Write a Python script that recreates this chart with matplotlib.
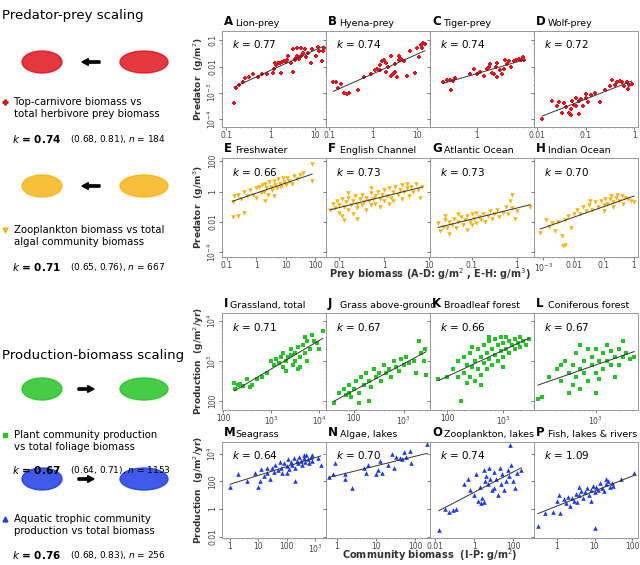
import numpy as np
import matplotlib
matplotlib.use("Agg")
import matplotlib.pyplot as plt
from matplotlib.ticker import FixedLocator, FuncFormatter, LogLocator

# all point coordinates are log10 values
A_pts = [(-0.83,-3.4),(-0.79,-2.8),(-0.72,-2.7),(-0.62,-2.6),(-0.58,-2.45),(-0.5,-2.4),(-0.41,-2.3),(-0.29,-2.4),(-0.2,-2.3),(-0.08,-2.3),(0.05,-2.25),(0.07,-2.1),(0.09,-1.85),(0.12,-1.93),(0.17,-1.88),(0.2,-1.85),(0.25,-1.82),(0.23,-2.25),(0.3,-1.8),(0.34,-1.82),(0.38,-1.75),(0.47,-1.85),(0.5,-2.2),(0.56,-1.7),(0.6,-1.6),(0.64,-1.7),(0.68,-1.6),(0.73,-1.5),(0.77,-1.35),(0.8,-1.65),(0.85,-1.5),(0.9,-1.85),(0.94,-1.35),(1.02,-1.6),(1.06,-1.25),(1.1,-1.4),(1.15,-1.8),(1.18,-1.4),(1.2,-1.3),(0.4,-1.6),(0.5,-1.35),(0.6,-1.3),(0.68,-1.28),(0.55,-1.75)]
B_pts = [(-0.9,-2.6),(-0.85,-2.6),(-0.8,-2.8),(-0.72,-2.65),(-0.65,-3.0),(-0.6,-3.05),(-0.55,-3.0),(-0.35,-2.9),(-0.2,-2.4),(-0.05,-2.3),(0.05,-2.15),(0.1,-2.1),(0.15,-2.15),(0.2,-1.8),(0.25,-1.75),(0.3,-2.2),(0.35,-2.0),(0.4,-2.35),(0.45,-2.3),(0.5,-2.2),(0.55,-2.4),(0.6,-1.75),(0.65,-1.7),(0.7,-1.8),(0.78,-2.35),(0.85,-1.4),(0.95,-2.25),(1.0,-1.3),(1.05,-1.65),(1.1,-1.2),(1.12,-1.3),(1.15,-1.1),(1.18,-1.15),(0.3,-1.85),(0.4,-1.6),(0.15,-1.95),(0.6,-1.6),(0.5,-1.9)]
C_pts = [(-0.5,-2.6),(-0.45,-2.5),(-0.4,-2.5),(-0.38,-2.9),(-0.35,-2.55),(-0.32,-2.45),(-0.1,-2.3),(-0.05,-2.1),(0.0,-2.3),(0.05,-2.2),(0.1,-2.35),(0.15,-2.1),(0.18,-2.0),(0.2,-1.9),(0.22,-2.25),(0.25,-2.3),(0.28,-2.0),(0.3,-1.85),(0.35,-2.15),(0.38,-2.3),(0.4,-2.1),(0.45,-1.9),(0.48,-1.8),(0.5,-2.0),(0.55,-1.8),(0.58,-1.75),(0.62,-1.7),(0.65,-1.75),(0.68,-1.65),(0.7,-1.75),(0.42,-1.75),(0.3,-2.4)]
D_pts = [(-1.9,-4.0),(-1.7,-3.3),(-1.6,-3.5),(-1.55,-3.35),(-1.5,-3.75),(-1.45,-3.4),(-1.4,-3.55),(-1.35,-3.75),(-1.3,-3.6),(-1.28,-3.3),(-1.25,-3.45),(-1.2,-3.5),(-1.15,-3.3),(-1.1,-3.25),(-1.05,-3.5),(-1.0,-3.2),(-0.95,-3.35),(-0.9,-3.1),(-0.8,-3.0),(-0.7,-3.35),(-0.6,-2.9),(-0.5,-2.75),(-0.45,-2.5),(-0.4,-2.7),(-0.35,-2.6),(-0.3,-2.55),(-0.25,-2.6),(-0.2,-2.75),(-0.15,-2.6),(-0.1,-2.7),(-0.05,-2.65),(-1.15,-3.8),(-1.3,-3.85),(-1.2,-3.2),(-0.12,-2.85),(-1.0,-3.05)]
E_pts = [(-0.75,-0.3),(-0.6,-0.2),(-0.5,-0.5),(-0.4,0.0),(-0.3,-0.3),(-0.2,0.1),(-0.1,-0.2),(0.0,0.2),(0.0,-0.4),(0.1,0.3),(0.15,-0.1),(0.2,0.4),(0.25,0.0),(0.3,0.5),(0.35,0.2),(0.4,-0.2),(0.45,0.6),(0.5,0.3),(0.55,0.1),(0.6,0.7),(0.65,0.4),(0.7,0.2),(0.75,0.8),(0.8,0.5),(0.85,0.3),(0.9,0.9),(0.95,0.6),(1.0,0.4),(1.05,0.9),(1.1,0.7),(1.2,0.5),(1.3,1.0),(1.4,0.8),(1.5,1.1),(1.6,1.2),(1.9,1.8),(1.9,0.7),(-0.8,-0.7),(-0.8,-1.7),(-0.6,-1.6),(-0.4,-1.4),(0.3,-0.6),(0.6,-0.3)]
F_pts = [(-1.2,-1.2),(-1.15,-0.8),(-1.1,-1.1),(-1.05,-0.6),(-1.0,-1.4),(-1.0,-0.9),(-0.95,-0.5),(-0.9,-1.0),(-0.9,-1.9),(-0.85,-0.7),(-0.8,-1.2),(-0.8,-0.4),(-0.75,-0.9),(-0.7,-0.6),(-0.7,-1.5),(-0.65,-0.3),(-0.6,-0.8),(-0.6,-1.1),(-0.55,-0.5),(-0.5,-0.9),(-0.5,-0.2),(-0.45,-0.7),(-0.4,-1.2),(-0.4,-0.4),(-0.35,-0.6),(-0.3,-0.1),(-0.3,-0.9),(-0.25,-0.5),(-0.2,-0.3),(-0.2,-0.8),(-0.15,0.0),(-0.1,-0.5),(-0.1,-1.0),(-0.05,-0.2),(0.0,-0.6),(0.0,0.1),(0.05,-0.3),(0.1,-0.8),(0.1,0.2),(0.15,-0.4),(0.2,0.0),(0.2,-0.6),(0.25,0.3),(0.3,-0.2),(0.35,0.1),(0.4,-0.5),(0.4,0.4),(0.45,0.0),(0.5,0.2),(0.55,-0.3),(0.6,0.3),(0.65,0.0),(0.7,0.5),(0.75,0.1),(0.8,-0.4),(0.85,0.3),(-0.95,-1.6),(-0.6,-1.8),(0.5,0.5),(-0.3,0.2),(-0.8,-0.1)]
G_pts = [(-1.75,-2.1),(-1.7,-2.6),(-1.65,-2.3),(-1.6,-1.9),(-1.55,-2.4),(-1.5,-2.0),(-1.5,-2.8),(-1.45,-2.2),(-1.4,-1.8),(-1.35,-2.4),(-1.3,-2.0),(-1.25,-1.7),(-1.2,-2.2),(-1.15,-1.9),(-1.1,-1.6),(-1.1,-2.5),(-1.05,-2.0),(-1.0,-1.5),(-1.0,-2.2),(-0.95,-1.8),(-0.9,-1.4),(-0.9,-2.1),(-0.85,-1.7),(-0.8,-1.9),(-0.75,-1.5),(-0.7,-2.0),(-0.65,-1.6),(-0.6,-1.3),(-0.55,-1.8),(-0.5,-1.5),(-0.45,-1.2),(-0.4,-1.7),(-0.3,-1.4),(-0.2,-1.5),(-0.1,-1.1),(-0.05,-1.8),(0.0,-1.3),(-0.1,-0.2),(-0.15,-0.6),(-0.25,-1.0),(0.3,-1.0),(-1.6,-1.6),(-1.3,-1.5)]
H_pts = [(-3.1,-2.7),(-2.9,-1.9),(-2.8,-2.3),(-2.7,-2.1),(-2.6,-2.6),(-2.5,-2.0),(-2.4,-2.9),(-2.35,-3.6),(-2.3,-3.5),(-2.3,-1.9),(-2.2,-1.6),(-2.1,-2.4),(-2.0,-1.5),(-1.9,-1.2),(-1.8,-1.5),(-1.7,-1.0),(-1.6,-1.3),(-1.5,-0.9),(-1.4,-1.2),(-1.3,-0.7),(-1.2,-1.0),(-1.1,-0.6),(-1.0,-0.9),(-0.95,-0.5),(-0.9,-0.8),(-0.8,-0.5),(-0.75,-0.3),(-0.7,-0.7),(-0.6,-0.4),(-0.55,-0.2),(-0.5,-0.6),(-0.4,-0.3),(-0.35,-0.8),(-0.3,-0.4),(-0.2,-0.5),(-0.1,-0.6),(0.0,-0.7),(-1.0,-1.3),(-0.7,-1.0),(-1.45,-0.6)]
I_pts = [(2.23,2.45),(2.25,2.3),(2.3,2.4),(2.35,2.42),(2.4,2.38),(2.5,2.55),(2.55,2.35),(2.6,2.4),(2.7,2.55),(2.8,2.6),(2.9,2.7),(3.0,3.0),(3.05,2.9),(3.1,3.05),(3.15,2.95),(3.2,3.1),(3.25,2.85),(3.3,3.0),(3.35,3.1),(3.4,3.15),(3.45,2.9),(3.5,3.2),(3.5,3.0),(3.55,3.35),(3.6,3.1),(3.6,2.85),(3.65,3.4),(3.7,3.2),(3.7,3.6),(3.75,3.0),(3.8,3.3),(3.85,3.65),(3.9,3.5),(3.95,3.45),(4.0,3.3),(4.07,3.75),(3.4,3.3),(3.3,2.75),(3.55,2.8),(3.75,3.5),(3.25,3.2)]
J_pts = [(1.6,1.95),(1.7,2.2),(1.8,2.3),(1.85,2.15),(1.9,2.4),(1.95,2.1),(2.0,2.3),(2.05,2.5),(2.1,2.2),(2.1,1.95),(2.15,2.6),(2.2,2.4),(2.25,2.7),(2.3,2.5),(2.35,2.35),(2.4,2.8),(2.45,2.6),(2.5,2.7),(2.55,2.5),(2.6,2.9),(2.65,2.7),(2.7,2.8),(2.75,2.6),(2.8,3.0),(2.85,2.85),(2.9,2.75),(2.95,3.05),(3.0,2.9),(3.05,3.1),(3.1,2.95),(3.2,3.0),(3.3,3.5),(3.35,3.2),(3.4,3.0),(3.43,3.3),(3.45,2.65),(3.25,2.7),(2.3,2.0),(1.9,2.2)]
K_pts = [(1.85,2.55),(2.0,2.6),(2.1,2.8),(2.2,3.0),(2.25,2.0),(2.3,2.7),(2.3,3.1),(2.35,2.9),(2.4,2.6),(2.4,3.2),(2.45,2.85),(2.5,3.0),(2.5,2.5),(2.55,3.3),(2.55,2.8),(2.6,3.1),(2.6,2.65),(2.65,2.95),(2.65,3.4),(2.7,3.2),(2.7,2.8),(2.75,3.05),(2.75,3.5),(2.8,3.3),(2.8,2.9),(2.85,3.15),(2.85,3.55),(2.9,3.4),(2.9,3.0),(2.95,3.25),(2.95,3.6),(3.0,3.45),(3.0,3.1),(3.05,3.3),(3.05,3.6),(3.1,3.5),(3.1,3.2),(3.15,3.4),(3.2,3.55),(3.2,3.3),(3.25,3.45),(3.3,3.6),(3.3,3.35),(3.35,3.5),(3.4,3.4),(3.45,3.55),(2.45,3.35),(2.6,2.4),(2.35,2.45),(2.2,2.6),(3.0,2.85),(2.75,3.6)]
L_pts = [(2.25,2.05),(2.3,2.1),(2.4,2.6),(2.5,2.8),(2.55,2.5),(2.6,3.0),(2.65,2.7),(2.7,2.4),(2.7,2.9),(2.75,2.6),(2.75,3.2),(2.8,2.8),(2.8,2.3),(2.85,3.0),(2.85,2.7),(2.9,3.3),(2.9,2.5),(2.95,2.9),(2.95,3.1),(3.0,2.7),(3.0,3.3),(3.05,3.0),(3.05,2.55),(3.1,3.2),(3.1,2.8),(3.15,3.4),(3.15,3.0),(3.2,2.9),(3.2,3.25),(3.25,3.1),(3.25,2.6),(3.3,3.3),(3.3,2.9),(3.35,3.5),(3.35,3.1),(3.4,3.2),(3.45,3.05),(3.5,3.1),(2.65,2.2),(2.55,2.9),(3.0,2.2),(2.8,3.4)]
M_pts = [(0.0,1.6),(0.3,2.5),(0.6,2.0),(0.9,2.6),(1.0,1.6),(1.05,2.0),(1.1,2.9),(1.2,2.4),(1.3,2.6),(1.4,2.2),(1.5,3.0),(1.55,2.7),(1.6,3.2),(1.7,2.8),(1.75,3.4),(1.8,3.0),(1.85,2.6),(1.9,3.3),(2.0,3.1),(2.05,3.6),(2.1,2.9),(2.15,3.4),(2.2,3.2),(2.25,3.7),(2.3,3.0),(2.35,3.5),(2.4,3.3),(2.45,3.8),(2.5,3.5),(2.55,3.2),(2.6,3.7),(2.65,3.4),(2.7,3.9),(2.75,3.6),(2.8,3.3),(2.85,3.8),(2.9,3.5),(3.1,3.7),(3.2,3.2),(2.3,2.0),(1.3,3.0),(2.0,2.6),(2.9,3.9),(2.6,3.9)]
N_pts = [(-0.2,2.3),(-0.1,2.5),(-0.05,3.3),(0.2,2.5),(0.2,2.2),(0.4,1.5),(0.7,3.0),(0.75,2.6),(1.0,2.5),(1.05,2.8),(1.1,3.5),(1.15,2.6),(1.3,3.2),(1.4,4.0),(1.45,3.0),(1.5,3.8),(1.6,3.7),(1.7,4.1),(1.75,3.8),(1.85,4.2),(1.9,3.3),(2.3,4.7),(0.8,3.2),(1.65,3.6)]
O_pts = [(-1.8,-1.5),(-1.5,0.0),(-1.3,-0.2),(-1.1,-0.1),(-0.9,0.0),(-0.5,1.8),(-0.3,2.2),(-0.2,1.4),(0.0,1.0),(0.1,2.5),(0.2,0.6),(0.3,1.6),(0.35,0.4),(0.4,0.8),(0.5,2.8),(0.55,2.0),(0.6,2.4),(0.7,1.8),(0.75,3.0),(0.8,2.2),(0.9,1.4),(1.0,2.7),(1.1,2.2),(1.2,1.0),(1.3,3.0),(1.35,1.8),(1.4,2.5),(1.5,1.4),(1.6,2.0),(1.7,2.8),(1.8,2.4),(1.9,3.2),(2.0,2.0),(2.1,1.5),(2.2,2.6),(2.4,2.8),(1.85,4.6),(0.5,0.5),(1.0,1.5)]
P_pts = [(-0.5,-1.2),(-0.3,-0.3),(-0.1,-0.2),(0.0,0.6),(0.05,1.0),(0.1,-0.3),(0.2,0.7),(0.25,0.4),(0.3,0.9),(0.35,0.2),(0.4,0.8),(0.45,0.6),(0.5,1.1),(0.55,0.5),(0.6,1.0),(0.65,1.3),(0.7,0.8),(0.75,1.2),(0.8,1.5),(0.85,1.0),(0.9,1.4),(0.95,1.7),(1.0,1.2),(1.0,-1.4),(1.05,1.6),(1.1,1.4),(1.15,1.9),(1.2,1.5),(1.25,1.3),(1.3,1.8),(1.35,2.0),(1.4,1.6),(1.45,1.9),(1.5,1.7),(1.7,2.2),(2.05,2.6),(0.6,1.6),(0.9,0.6),(1.3,2.2)]

letters = list("ABCDEFGHIJKLMNOP")
names = ["Lion-prey", "Hyena-prey", "Tiger-prey", "Wolf-prey",
         "Freshwater", "English Channel", "Atlantic Ocean", "Indian Ocean",
         "Grassland, total", "Grass above-ground", "Broadleaf forest", "Coniferous forest",
         "Seagrass", "Algae, lakes", "Zooplankton, lakes", "Fish, lakes & rivers"]
k_vals = [0.77, 0.74, 0.74, 0.72, 0.66, 0.73, 0.73, 0.70,
          0.71, 0.67, 0.66, 0.67, 0.64, 0.70, 0.74, 1.09]
points = [A_pts, B_pts, C_pts, D_pts, E_pts, F_pts, G_pts, H_pts,
          I_pts, J_pts, K_pts, L_pts, M_pts, N_pts, O_pts, P_pts]
xlims = [(-1.1, 1.25), (-1.07, 1.3), (-0.7, 0.85), (-2.07, 0.08),
         (-1.16, 2.37), (-1.3, 1.02), (-1.93, 0.38), (-3.31, 0.13),
         (1.97, 4.14), (1.45, 3.53), (1.7, 3.54), (2.2, 3.55),
         (-0.28, 3.39), (-0.27, 2.37), (-2.25, 3.05), (-0.6, 2.15)]
xticks = [[-1, 0, 1], [-1, 0, 1], [0], [-2, -1, 0],
          [-1, 0, 1, 2], [-1, 0, 1], [-1, 0], [-3, -2, -1, 0],
          [2, 3, 4], [2, 3], [2, 3], [3],
          [0, 1, 2, 3], [0, 1, 2], [-2, 0, 2], [0, 1, 2]]
row_ylims = [(-4.3, -0.65), (-4.3, 2.2), (1.78, 4.2), (-2.1, 4.85)]
row_yticks = [[-4, -3, -2, -1], [-4, -2, 0, 2], [2, 3, 4], [-2, 0, 2, 4]]
row_colors = ["#e0141c", "#f7b418", "#25c425", "#1e3ce6"]
row_markers = ["P", "v", "s", "^"]


def fmt(v, pos=None):
    e = int(round(np.log10(v)))
    if e == -2: return "0.01"
    if e == -1: return "0.1"
    if e == 0: return "1"
    if e == 1: return "10"
    if e == 2: return "100"
    return r"$10^{%d}$" % e


W, H = 640, 565
col_l = [222, 326, 430, 534]
rows = [(31, 127), (158, 257), (313, 410), (442, 538)]

fig = plt.figure(figsize=(6.4, 5.65), dpi=100)
for i in range(16):
    r, c = divmod(i, 4)
    top, bot = rows[r]
    ax = fig.add_axes([col_l[c] / W, 1 - bot / H, 104 / W, (bot - top) / H])
    pts = np.array(points[i])
    x, y = 10 ** pts[:, 0], 10 ** pts[:, 1]
    ax.scatter(x, y, s=11, marker=row_markers[r], color=row_colors[r], linewidths=0, zorder=2)
    # fit line with slope k through data centroid
    lx = np.array([pts[:, 0].min(), pts[:, 0].max()])
    ly = pts[:, 1].mean() + k_vals[i] * (lx - pts[:, 0].mean())
    ax.plot(10 ** lx, 10 ** ly, color="#333333", lw=0.7, zorder=3)
    ax.set_xscale("log"); ax.set_yscale("log")
    ax.set_xlim(10 ** xlims[i][0], 10 ** xlims[i][1])
    ax.set_ylim(10 ** row_ylims[r][0], 10 ** row_ylims[r][1])
    ax.xaxis.set_major_locator(FixedLocator([10.0 ** t for t in xticks[i]]))
    ax.yaxis.set_major_locator(FixedLocator([10.0 ** t for t in row_yticks[r]]))
    ax.xaxis.set_minor_locator(LogLocator(base=10, subs=np.arange(2, 10)))
    ax.yaxis.set_minor_locator(LogLocator(base=10, subs=np.arange(2, 10)))
    ax.xaxis.set_major_formatter(FuncFormatter(fmt))
    ax.yaxis.set_major_formatter(FuncFormatter(fmt))
    ax.xaxis.set_minor_formatter(FuncFormatter(lambda v, p: ""))
    ax.yaxis.set_minor_formatter(FuncFormatter(lambda v, p: ""))
    ax.tick_params(labelsize=5.5, colors="#444444", length=2, width=0.5, pad=1.2)
    ax.tick_params(which="minor", length=1, width=0.4, colors="#888888")
    for s in ax.spines.values():
        s.set_color("#999999"); s.set_linewidth(0.7)
    if c == 0:
        for lab in ax.get_yticklabels():
            lab.set_rotation(90); lab.set_va("center")
    else:
        ax.tick_params(axis="y", labelleft=False)
    ax.text(0.1, 0.86, r"$\it{k}$ = %.2f" % k_vals[i], transform=ax.transAxes,
            fontsize=7.5, va="center")
    ax.text(0.02, 1.03, letters[i], transform=ax.transAxes, fontsize=8.5,
            fontweight="bold", va="bottom")
    ax.text(0.02 + (0.11 if letters[i] != "I" else 0.06), 1.03, names[i],
            transform=ax.transAxes, fontsize=6.8, va="bottom")

ylab = [("Predator  (g/m$^2$)", 79), ("Predator  (g/m$^3$)", 207),
        ("Production  (g/m$^2$/yr)", 361), ("Production  (g/m$^2$/yr)", 490)]
for t, yc in ylab:
    fig.text(199 / W, 1 - yc / H, t, rotation=90, ha="center", va="center",
             fontsize=6.5, fontweight="bold", color="#333333")
fig.text(430 / W, 1 - 274 / H, "Prey biomass (A-D: g/m$^2$ , E-H: g/m$^3$)",
         ha="center", va="center", fontsize=7, fontweight="bold", color="#333333")
fig.text(430 / W, 1 - 555 / H, "Community biomass  (I-P: g/m$^2$)",
         ha="center", va="center", fontsize=7, fontweight="bold", color="#333333")


# left column
def ftext(xp, yp, s, **kw):
    fig.text(xp / W, 1 - yp / H, s, va="center", **kw)


ftext(2, 15, "Predator-prey scaling", fontsize=9.5)
ftext(2, 355, "Production-biomass scaling", fontsize=9.5)
blocks = [
    (108, 139, "Top-carnivore biomass vs\ntotal herbivore prey biomass", "0.74", "(0.68, 0.81), ", "184", 0),
    (236, 267, "Zooplankton biomass vs total\nalgal community biomass", "0.71", "(0.65, 0.76), ", "667", 1),
    (441, 470, "Plant community production\nvs total foliage biomass", "0.67", "(0.64, 0.71), ", "1153", 2),
    (525, 555, "Aquatic trophic community\nproduction vs total biomass", "0.76", "(0.68, 0.83), ", "256", 3),
]
icon_y = [62, 186, 389, 479]
for (yt, yk, desc, kk, ci, n, r), iy in zip(blocks, icon_y):
    fig.lines.append(plt.Line2D([5 / W], [1 - (yt - 6) / H], marker=row_markers[r], ms=3.5,
                                color=row_colors[r], lw=0, transform=fig.transFigure, figure=fig))
    ftext(14, yt, desc, fontsize=7.3, linespacing=1.3)
    fig.text(12 / W, 1 - yk / H, r"$\bf{\it{k}}$ = " + kk, fontsize=7.5, fontweight="bold", va="center")
    fig.text(70 / W, 1 - yk / H, ci + r"$\it{n}$ = " + n, fontsize=6.5, va="center")
    fig.add_artist(matplotlib.patches.FancyArrow(
        (100 if r < 2 else 78) / W, 1 - iy / H, (-18 if r < 2 else 16) / W, 0,
        width=0.004, head_width=0.012, head_length=0.01, color="black",
        transform=fig.transFigure, length_includes_head=True))
    # simple colored stand-ins for the organism silhouettes
    for cx, w in [(42, 40), (144, 48)]:
        fig.add_artist(matplotlib.patches.Ellipse((cx / W, 1 - iy / H), w / W, 22 / H,
                       color=row_colors[r], alpha=0.85, transform=fig.transFigure))

fig.savefig("out.png", dpi=100)
